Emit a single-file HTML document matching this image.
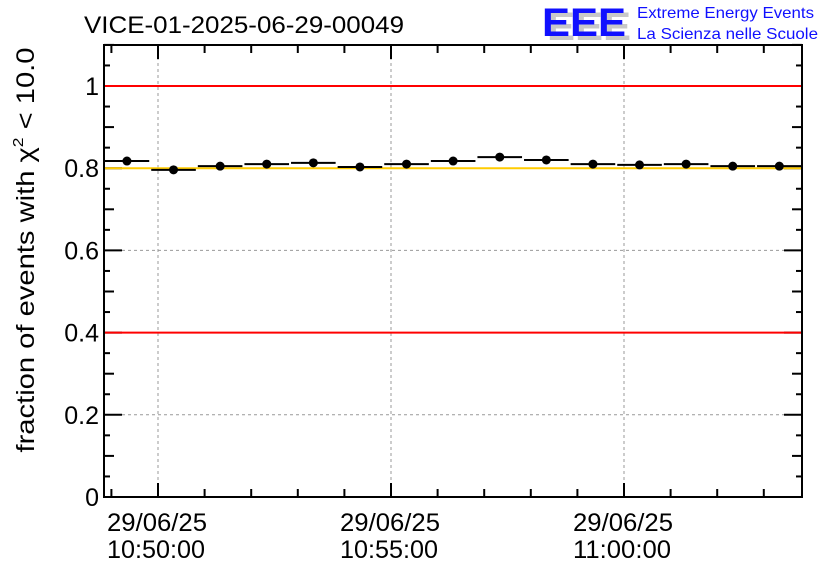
<!DOCTYPE html>
<html><head><meta charset="utf-8"><style>
body{margin:0;background:#fff;}
svg{display:block;font-family:"Liberation Sans",sans-serif;}
</style></head><body>
<svg id="chart" width="836" height="572" viewBox="0 0 836 572">
<rect width="836" height="572" fill="#fff"/>
<text x="84" y="33" font-size="24" textLength="320" lengthAdjust="spacingAndGlyphs">VICE-01-2025-06-29-00049</text>
<g>
<text x="547" y="40" font-size="40" font-weight="bold" fill="#c8c8c8" textLength="84" lengthAdjust="spacingAndGlyphs">EEE</text>
<text x="542" y="36" font-size="40" font-weight="bold" fill="#1010ff" textLength="84" lengthAdjust="spacingAndGlyphs">EEE</text>
<text x="637" y="18" font-size="16" fill="#1010ff" textLength="177" lengthAdjust="spacingAndGlyphs">Extreme Energy Events</text>
<text x="637" y="39" font-size="16" fill="#1010ff" textLength="181" lengthAdjust="spacingAndGlyphs">La Scienza nelle Scuole</text>
</g>
<text transform="translate(34,250) rotate(-90)" text-anchor="middle" font-size="25" textLength="405" lengthAdjust="spacingAndGlyphs">fraction of events with χ<tspan font-size="15" dy="-11">2</tspan><tspan dy="11"> &lt; 10.0</tspan></text>
<g id="grid"></g><g id="axes"></g><g id="marks"></g>
<rect x="104" y="45" width="698" height="452" fill="none" stroke="#000" stroke-width="2"/>
</svg>
<script>
const binStartSec = -70; // 10:48:50 relative to 10:50:00
const binWidthSec = 60;
const values = [0.8175,0.796,0.805,0.810,0.813,0.803,0.810,0.8175,0.827,0.820,0.810,0.808,0.810,0.805,0.805];
const yTicks = [0,0.2,0.4,0.6,0.8,1];
const yTickLabels = ["0","0.2","0.4","0.6","0.8","1"];
const xTickSecs = [0,300,600];
const xTickDates = ["29/06/25","29/06/25","29/06/25"];
const xTickTimes = ["10:50:00","10:55:00","11:00:00"];
const refLines = [0.4,1.0];
const targetLine = 0.8;

const NS="http://www.w3.org/2000/svg";
const L=104,R=802,T=45,B=497;
const x=s=>158+s*233/300;
const y=v=>B-v*(B-86);
function mk(tag,attrs,parent){const e=document.createElementNS(NS,tag);for(const k in attrs)e.setAttribute(k,attrs[k]);parent.appendChild(e);return e;}
const grid=document.getElementById('grid'),axes=document.getElementById('axes'),marks=document.getElementById('marks');
yTicks.forEach((v,i)=>{
  if(v>0&&v<1){const g=mk('line',{x1:L,x2:R,y1:y(v),y2:y(v),stroke:'#999','stroke-dasharray':'3,3','stroke-width':1},grid);
  
  }
  const t=mk('text',{x:L-5,y:y(v)+9,'text-anchor':'end','font-size':25},axes);t.textContent=yTickLabels[i];
  
  
});
for(let v=0;v<=1.1001;v+=0.05){
  const len=Math.abs(v*10-Math.round(v*10))<1e-6?(Math.round(v*10)%2===0?18:10):6;
  mk('line',{x1:L,x2:L+len,y1:y(v),y2:y(v),stroke:'#000','stroke-width':2},axes);
  mk('line',{x1:R,x2:R-len,y1:y(v),y2:y(v),stroke:'#000','stroke-width':2},axes);
}
xTickSecs.forEach((s,i)=>{
  const g=mk('line',{x1:x(s),x2:x(s),y1:T,y2:B,stroke:'#999','stroke-dasharray':'3,3','stroke-width':1},grid);
  
  
  const t1=mk('text',{x:x(s)-51,y:531,'font-size':25,textLength:100,lengthAdjust:'spacingAndGlyphs'},axes);t1.textContent=xTickDates[i];
  
  
  const t2=mk('text',{x:x(s)-51,y:558,'font-size':25,textLength:98,lengthAdjust:'spacingAndGlyphs'},axes);t2.textContent=xTickTimes[i];
  
  
});
for(let s=-60;x(s)<R;s+=60){
  const len=(s%300===0)?14:8;
  mk('line',{x1:x(s),x2:x(s),y1:B,y2:B-len,stroke:'#000','stroke-width':2},axes);
  mk('line',{x1:x(s),x2:x(s),y1:T,y2:T+len,stroke:'#000','stroke-width':2},axes);
}
refLines.forEach(v=>{const l=mk('line',{x1:L,x2:R,y1:y(v),y2:y(v),stroke:'#ff0000','stroke-width':2},marks);
  
  });
const tl=mk('line',{x1:L,x2:R,y1:y(targetLine),y2:y(targetLine),stroke:'#ffcc00','stroke-width':2},marks);


values.forEach((v,i)=>{
  const s0=binStartSec+i*binWidthSec,s1=s0+binWidthSec;
  const b=mk('line',{x1:x(s0)+1,x2:x(s1)-1,y1:y(v),y2:y(v),stroke:'#000','stroke-width':2},marks);
  
  
  const c=mk('circle',{cx:x((s0+s1)/2),cy:y(v),r:4.5,fill:'#000'},marks);
  
  
});
</script>
</body></html>
